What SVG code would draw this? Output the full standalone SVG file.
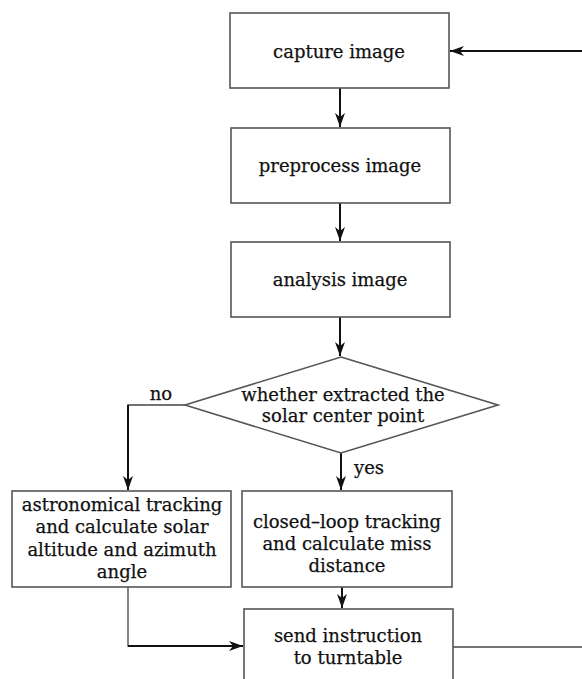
<svg xmlns="http://www.w3.org/2000/svg" width="582" height="679" viewBox="0 0 582 679">
<style>
.box{fill:#fff;stroke:#555;stroke-width:1.6}
.t{font-family:"DejaVu Serif","Liberation Serif",serif;font-size:18px;fill:#111;stroke:#111;stroke-width:0.25;text-anchor:middle}
.c{fill:none;stroke:#111;stroke-width:2}
.ct{fill:none;stroke:#444;stroke-width:1.3}
</style>
<defs>
<marker id="ah" markerWidth="15" markerHeight="10" refX="14" refY="5" orient="auto" markerUnits="userSpaceOnUse">
<path d="M0,0 L14,5 L0,10 L4,5 Z" fill="#111"/>
</marker>
</defs>
<rect width="582" height="679" fill="#fff"/>
<g id="connectors">
<line class="c" x1="340" y1="88" x2="340" y2="127" marker-end="url(#ah)"/>
<line class="c" x1="340" y1="203" x2="340" y2="241" marker-end="url(#ah)"/>
<line class="c" x1="340" y1="317" x2="340" y2="356" marker-end="url(#ah)"/>
<polyline class="ct" points="185,405 128,405 128,420"/>
<line class="c" x1="128" y1="405" x2="128" y2="490" marker-end="url(#ah)"/>
<line class="c" x1="341" y1="453" x2="341" y2="490" marker-end="url(#ah)"/>
<line class="c" x1="342" y1="587" x2="342" y2="608" marker-end="url(#ah)"/>
<polyline class="ct" points="128,587 128,646 160,646"/>
<line class="c" x1="128" y1="646" x2="243" y2="646" marker-end="url(#ah)"/>
<line class="ct" x1="453" y1="647" x2="600" y2="647"/>
<line class="c" x1="600" y1="51" x2="450" y2="51" marker-end="url(#ah)"/>
<text class="t" x="161" y="400">no</text>
<text class="t" x="369" y="474">yes</text>
</g>
<g id="capture">
<rect class="box" x="230" y="13" width="219" height="75"/>
<text class="t" x="339" y="58">capture image</text>
</g>
<g id="preprocess">
<rect class="box" x="231" y="128" width="219" height="75"/>
<text class="t" x="340" y="172">preprocess image</text>
</g>
<g id="analysis">
<rect class="box" x="231" y="242" width="219" height="75"/>
<text class="t" x="340" y="286">analysis image</text>
</g>
<g id="decision">
<polygon class="box" points="341,357 498,405 341,453 185,405"/>
<text class="t" x="343" y="401">whether extracted the</text>
<text class="t" x="343" y="422">solar center point</text>
</g>
<g id="astro">
<rect class="box" x="12" y="491" width="219" height="96"/>
<text class="t" x="122" y="511">astronomical tracking</text>
<text class="t" x="122" y="533">and calculate solar</text>
<text class="t" x="122" y="556">altitude and azimuth</text>
<text class="t" x="122" y="578">angle</text>
</g>
<g id="closed">
<rect class="box" x="242" y="491" width="210" height="96"/>
<text class="t" x="347" y="528">closed–loop tracking</text>
<text class="t" x="347" y="550">and calculate miss</text>
<text class="t" x="347" y="572">distance</text>
</g>
<g id="send">
<rect class="box" x="244" y="609" width="209" height="90"/>
<text class="t" x="348" y="642">send instruction</text>
<text class="t" x="348" y="664">to turntable</text>
</g>
</svg>
